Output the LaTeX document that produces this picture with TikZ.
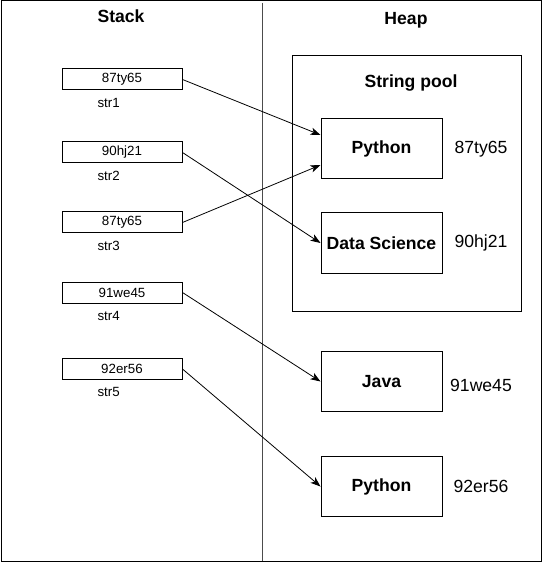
\documentclass[tikz,border=0pt]{standalone}
\usepackage{fontspec}
\setmainfont{Liberation Sans}
\usetikzlibrary{arrows.meta}
\begin{document}
\begin{tikzpicture}[x=0.75pt,y=-0.75pt,
  line width=0.75pt,
  small/.style={font=\fontsize{10}{11}\selectfont},
  big/.style={font=\fontsize{13.2}{15}\selectfont},
  bigb/.style={font=\fontsize{13.2}{15}\selectfont\bfseries},
  ptr/.style={-{Stealth[length=7.5pt,width=5.5pt,inset=2pt]}, line width=0.6pt}
]
\useasboundingbox (0,0) rectangle (543,566);
\draw (1,1) rectangle (541,561);
\coordinate (dtop) at (262,3);
\coordinate (dbot) at (262,561);
\draw[line width=0.7pt, black!70] (dtop) -- (dbot);

\node[bigb] (stack) at (121,16) {Stack};
\node[bigb] (heap) at (406,20) {Heap};

% stack boxes
\foreach \n/\y/\t/\l in {s1/79.5/87ty65/str1, s2/152.5/90hj21/str2, s3/222.5/87ty65/str3, s4/292.5/91we45/str4, s5/369/92er56/str5}{
  \node[draw, small, minimum width=90pt, minimum height=15.75pt, inner sep=0pt] (\n) at (122,\y) {\t};
  \node[small, anchor=west, inner sep=0pt] (\n l) at (97,\y+23) {\l};
}

% string pool
\node[draw, minimum width=171.75pt, minimum height=191.25pt, inner sep=0pt] (pool) at (406.5,183.5) {};
\node[bigb] (pooltitle) at (411,83) {String pool};

\foreach \n/\y/\t/\a/\ay in {h1/149/Python/87ty65/149, h2/243/Data Science/90hj21/243, h3/381.5/Java/91we45/385, h4/486.5/Python/92er56/486}{
  \node[draw, bigb, minimum width=90.75pt, minimum height=45pt, inner sep=0pt] (\n) at (381.5,\y) {\t};
  \node[big] (\n a) at (481,\ay) {\a};
}

\draw[ptr] (s1.east) -- ([yshift=10.5pt]h1.west);
\draw[ptr] (s3.east) -- ([yshift=-12pt]h1.west);
\draw[ptr] (s2.east) -- (h2.west);
\draw[ptr] (s4.east) -- (h3.west);
\draw[ptr] (s5.east) -- (h4.west);
\end{tikzpicture}
\end{document}
